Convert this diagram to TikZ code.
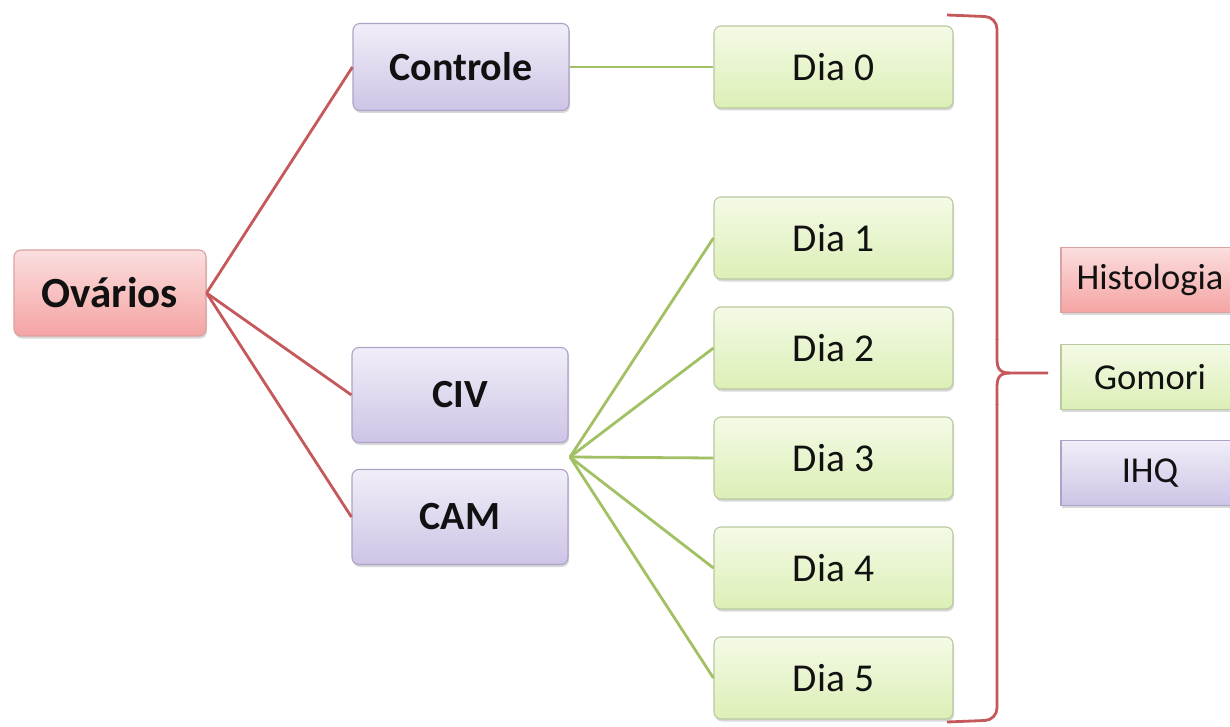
\documentclass[tikz,border=0pt]{standalone}
\usepackage{fontspec}
\setmainfont{Carlito}
\usetikzlibrary{positioning,shadows}

\definecolor{rosetop}{HTML}{FBDEDE}
\definecolor{rosebot}{HTML}{F4A4A3}
\definecolor{roseedge}{HTML}{D9A3A2}
\definecolor{liltop}{HTML}{F1EEF8}
\definecolor{lilbot}{HTML}{CEC4E6}
\definecolor{liledge}{HTML}{ADA3C6}
\definecolor{limetop}{HTML}{F4FAE6}
\definecolor{limebot}{HTML}{DCEFB6}
\definecolor{limeedge}{HTML}{B9C9A0}
\definecolor{redline}{HTML}{C4585A}
\definecolor{greenline}{HTML}{A2C064}
\definecolor{ink}{HTML}{111111}

\begin{document}
\begin{tikzpicture}[x=1pt,y=-1pt]
\tikzstyle{box}=[draw, line width=1.1pt, rounded corners=7pt, inner sep=0pt, text=ink,
drop shadow={shadow xshift=1pt, shadow yshift=-2.5pt, opacity=0.3}]
\tikzstyle{rosebox}=[box, draw=roseedge, top color=rosetop, bottom color=rosebot]
\tikzstyle{lilbox}=[box, draw=liledge, top color=liltop, bottom color=lilbot,
minimum width=216pt, font=\fontsize{40}{48}\selectfont\bfseries]
\tikzstyle{diabox}=[box, draw=limeedge, top color=limetop, bottom color=limebot,
minimum width=239pt, minimum height=82pt, font=\fontsize{39.5}{47}\selectfont]
\tikzstyle{tagbox}=[rounded corners=0pt, minimum width=178pt, minimum height=65pt,
font=\fontsize{36.5}{44}\selectfont]
\tikzstyle{redlink}=[draw=redline, line width=2.8pt]
\tikzstyle{greenlink}=[draw=greenline, line width=2.8pt]

\clip (0,0) rectangle (1230,727);
\fill[white] (0,0) rectangle (1230,727);

% root
\node[rosebox, minimum width=192pt, minimum height=86pt,
font=\fontsize{43}{50}\selectfont\bfseries] (ovarios) at (110,293) {Ovários};

% groups
\node[lilbox, minimum height=87pt] (controle) at (461,67) {Controle};
\node[lilbox, minimum height=95pt] (civ) at (460,395) {CIV};
\node[lilbox, minimum height=95pt] (cam) at (460,517) {CAM};

\draw[redlink] (ovarios.east) -- (controle.west);
\draw[redlink] (ovarios.east) -- (civ.west);
\draw[redlink] (ovarios.east) -- (cam.west);

% days
\node[diabox] (dia0) at (833.5,67) {Dia 0};
\foreach \d in {1,...,5}
  \node[diabox] (dia\d) at (833.5,128+110*\d) {Dia \d};

\draw[greenlink] (controle.east) -- (dia0.west);
\coordinate (hub) at (570,457);
\foreach \d in {1,...,5}
  \draw[greenlink] (hub) -- (dia\d.west);

% analyses
\node[rosebox, tagbox] (histo) at (1150,280) {Histologia};
\node[diabox, tagbox] (gomori) at (1150,377) {Gomori};
\node[lilbox, tagbox, font=\fontsize{36.5}{44}\selectfont\mdseries] (ihq) at (1150,473) {IHQ};

% brace
\coordinate (bracetip) at (1048,373);
\draw[redline, line width=2.8pt, rounded corners=12pt]
  (947,15) -- (997,17) -- (997,340);
\draw[redline, line width=2.8pt] (997,339) -- (997,359)
  .. controls (997,369) and (1000,373) .. (1010,373) -- (bracetip);
\draw[redline, line width=2.8pt] (1010,373) .. controls (1000,373) and (997,377) .. (997,387)
  -- (997,405);
\draw[redline, line width=2.8pt, rounded corners=12pt]
  (997,404) -- (997,720) -- (947,722);
\end{tikzpicture}
\end{document}
